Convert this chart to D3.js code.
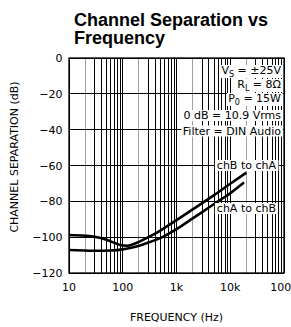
<!DOCTYPE html>
<html>
<head>
<meta charset="utf-8">
<script src="https://cdn.jsdelivr.net/npm/d3@7"></script>
<style>
  body { margin: 0; background: #fff; }
  text { font-family: "DejaVu Sans", sans-serif; fill: #000; }
</style>
</head>
<body>
<script>
const width = 291;
const height = 327;
const margin = { top: 58, right: 7, bottom: 54, left: 69 };

// data
const decades = [10, 100, 1000, 10000];
const xTickValues = [10, 100, 1000, 10000, 100000];
const xTickLabels = ["10", "100", "1k", "10k", "100k"];
const yTickValues = [0, -20, -40, -60, -80, -100, -120];

const chBtoChA = [
  [10, -98.8], [20, -99.2], [30, -99.8], [50, -101.5], [70, -103.2], [90, -104.4],
  [120, -104.8], [160, -103.8], [200, -102.6], [300, -100], [500, -96.3],
  [1000, -90.5], [2000, -84.5], [3000, -81], [5000, -76.5], [10000, -70.2], [20000, -64]
];
const chAtoChB = [
  [10, -107.2], [30, -107.6], [60, -107.4], [100, -106.8], [150, -105.8], [200, -104.8],
  [300, -103], [500, -100.5], [1000, -95.5], [2000, -89.5], [3000, -86],
  [5000, -81.5], [10000, -75.5], [18000, -69.5]
];

const conditions = [
  ["V", "S", " = ±25V"],
  ["R", "L", " = 8Ω"],
  ["P", "0", " = 15W"],
  ["0 dB = 10.9 Vrms", "", ""],
  ["Filter = DIN Audio", "", ""]
];
const seriesLabels = ["chB to chA", "chA to chB"];

const x = d3.scaleLog()
  .domain([10, 100000])
  .range([margin.left, width - margin.right]);

const y = d3.scaleLinear()
  .domain([-120, 0])
  .range([height - margin.bottom, margin.top]);

const svg = d3.select('body')
  .append('svg')
  .attr('width', width)
  .attr('height', height);

// title
const title = svg.append('text')
  .attr('x', 74)
  .style('font-family', '"Liberation Sans", Arial, sans-serif')
  .style('font-weight', 'bold')
  .style('font-size', '18px');
title.append('tspan').attr('x', 74).attr('y', 26).text('Channel Separation vs');
title.append('tspan').attr('x', 74).attr('y', 44).text('Frequency');

// vertical grid: 1..9 in each decade
const minor = [];
decades.forEach(d => { for (let k = 1; k < 10; k++) minor.push({ f: d * k, k: k }); });
minor.push({ f: 100000, k: 1 });

const grid = svg.append('g').attr('shape-rendering', 'crispEdges');

grid.selectAll('line.v')
  .data(minor)
  .enter()
  .append('line')
  .attr('class', 'v')
  .attr('x1', d => x(d.f)).attr('x2', d => x(d.f))
  .attr('y1', y(0)).attr('y2', y(-120))
  .attr('stroke', d => d.k === 2 ? '#a0a0a0' : '#000')
  .attr('stroke-width', 1);

grid.selectAll('line.h')
  .data(yTickValues)
  .enter()
  .append('line')
  .attr('class', 'h')
  .attr('x1', x(10)).attr('x2', x(100000))
  .attr('y1', d => y(d)).attr('y2', d => y(d))
  .attr('stroke', '#000')
  .attr('stroke-width', 1);

// curves
const line = d3.line()
  .x(d => x(d[0]))
  .y(d => y(d[1]))
  .curve(d3.curveMonotoneX);

svg.selectAll('path.curve')
  .data([chBtoChA, chAtoChB])
  .enter()
  .append('path')
  .attr('class', 'curve')
  .attr('d', d => line(d))
  .attr('fill', 'none')
  .attr('stroke', '#000')
  .attr('stroke-width', 2.6);

// frame
svg.append('rect')
  .attr('x', x(10)).attr('y', y(0))
  .attr('width', x(100000) - x(10))
  .attr('height', y(-120) - y(0))
  .attr('fill', 'none')
  .attr('stroke', '#000')
  .attr('stroke-width', 1.3);

// text with a white knock-out behind it
function knockout(g, t, pad) {
  const b = t.node().getBBox();
  g.insert('rect', 'text')
    .attr('x', b.x - pad).attr('y', b.y + 1)
    .attr('width', b.width + pad * 2).attr('height', b.height - 2)
    .attr('fill', '#fff');
}

const condG = svg.append('g');
const condY = [74, 88, 102, 119, 134.5];
conditions.forEach((c, i) => {
  const g = condG.append('g');
  const t = g.append('text')
    .attr('x', 281).attr('y', condY[i])
    .attr('text-anchor', 'end')
    .style('font-size', '11px');
  t.append('tspan').text(c[0]);
  if (c[1]) {
    t.append('tspan').attr('dy', 3).style('font-size', '8px').text(c[1]);
    t.append('tspan').attr('dy', -3).text(c[2]);
  }
  knockout(g, t, 1.5);
});

const labelY = [169, 212];
seriesLabels.forEach((s, i) => {
  const g = svg.append('g');
  const t = g.append('text')
    .attr('x', 276).attr('y', labelY[i])
    .attr('text-anchor', 'end')
    .style('font-size', '11px')
    .text(s);
  knockout(g, t, 2);
});

// tick labels
svg.selectAll('text.ytick')
  .data(yTickValues)
  .enter()
  .append('text')
  .attr('class', 'ytick')
  .attr('x', 62.5)
  .attr('y', d => y(d) + 4)
  .attr('text-anchor', 'end')
  .style('font-size', '11px')
  .text(d => d === 0 ? '0' : '−' + Math.abs(d));

svg.selectAll('text.xtick')
  .data(xTickValues)
  .enter()
  .append('text')
  .attr('class', 'xtick')
  .attr('x', d => x(d))
  .attr('y', 291)
  .attr('text-anchor', 'middle')
  .style('font-size', '11px')
  .text((d, i) => xTickLabels[i]);

// axis titles
svg.append('text')
  .attr('x', (x(10) + x(100000)) / 2)
  .attr('y', 321)
  .attr('text-anchor', 'middle')
  .style('font-size', '11px')
  .text('FREQUENCY (Hz)');

svg.append('text')
  .attr('transform', 'translate(18,157) rotate(-90)')
  .attr('text-anchor', 'middle')
  .style('font-size', '11px')
  .text('CHANNEL SEPARATION (dB)');
</script>
</body>
</html>
